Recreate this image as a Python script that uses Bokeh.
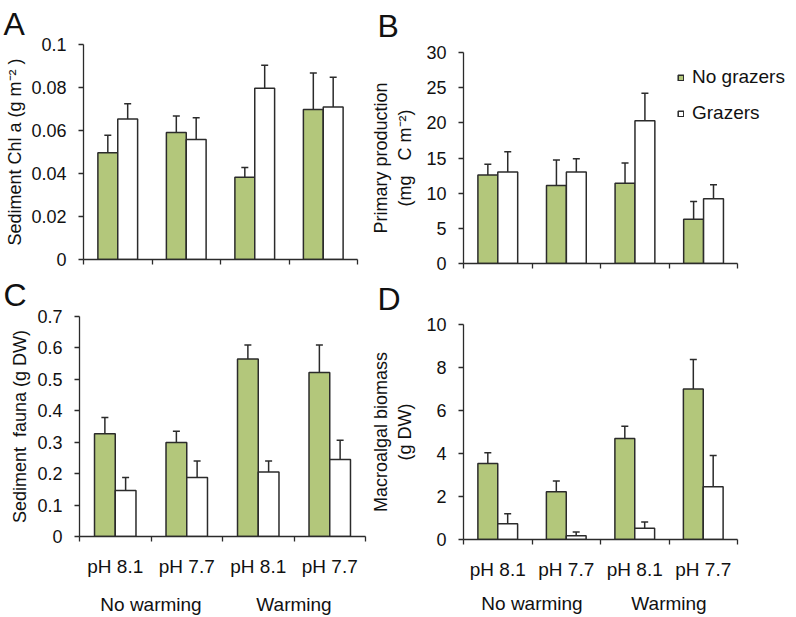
import numpy as np
from bokeh.plotting import figure
from bokeh.models import (Range1d, FixedTicker, LinearAxis, Whisker, TeeHead,
                          ColumnDataSource, Legend, LegendItem)
from bokeh.layouts import row, column
from bokeh.embed import file_html
from bokeh.resources import INLINE

# ---------------- data ----------------
groups = ["No warming", "Warming"]
ph_labels = ["pH 8.1", "pH 7.7", "pH 8.1", "pH 7.7"]
series = ["No grazers", "Grazers"]

# A: Sediment Chl a (g m-2)
chl_nog = [0.0496, 0.0591, 0.0383, 0.0698]
chl_nog_se = [0.0082, 0.0077, 0.0045, 0.0169]
chl_g = [0.0653, 0.0558, 0.0797, 0.0709]
chl_g_se = [0.0071, 0.0101, 0.0107, 0.0139]
chl_ticks = [0, 0.02, 0.04, 0.06, 0.08, 0.1]
chl_tick_labels = ["0", "0.02", "0.04", "0.06", "0.08", "0.1"]

# B: Primary production (mg C m-2)
pp_nog = [12.6, 11.1, 11.4, 6.3]
pp_nog_se = [1.5, 3.6, 2.9, 2.5]
pp_g = [13.0, 13.0, 20.3, 9.2]
pp_g_se = [2.9, 1.9, 3.9, 2.0]
pp_ticks = [0, 5, 10, 15, 20, 25, 30]
pp_tick_labels = ["0", "5", "10", "15", "20", "25", "30"]

# C: Sediment fauna (g DW)
fauna_nog = [0.327, 0.299, 0.565, 0.522]
fauna_nog_se = [0.052, 0.036, 0.044, 0.087]
fauna_g = [0.146, 0.188, 0.205, 0.245]
fauna_g_se = [0.042, 0.052, 0.035, 0.061]
fauna_ticks = [0, 0.1, 0.2, 0.3, 0.4, 0.5, 0.6, 0.7]
fauna_tick_labels = ["0", "0.1", "0.2", "0.3", "0.4", "0.5", "0.6", "0.7"]

# D: Macroalgal biomass (g DW)
alg_nog = [3.53, 2.22, 4.70, 7.00]
alg_nog_se = [0.50, 0.50, 0.57, 1.37]
alg_g = [0.73, 0.17, 0.52, 2.45]
alg_g_se = [0.47, 0.18, 0.29, 1.46]
alg_ticks = [0, 2, 4, 6, 8, 10]
alg_tick_labels = ["0", "2", "4", "6", "8", "10"]

# ---------------- style ----------------
GREEN = "#b3c77b"
EDGE = "#2b2b2b"
TXT = "#111111"
FONT = "Liberation Sans"
BW = 0.29
NB = "\u00a0"


def panel(nog, nog_se, g, g_se, ticks, tick_labels, ylabel, letter,
          width, height, mb, letter_off, letter_standoff=0, xlabels=False,
          legend=None, label_standoff=4, x_extra=1.0, ph_standoff=14,
          grp_standoff=13):
    n = len(nog)
    ymax = ticks[-1]
    p = figure(width=width, height=height, x_range=Range1d(0, n * x_extra),
               y_range=Range1d(0, ymax), output_backend="svg",
               toolbar_location=None,
               min_border_left=mb[0], min_border_right=mb[1],
               min_border_top=mb[2], min_border_bottom=mb[3])
    p.frame_align = False
    p.grid.visible = False
    p.outline_line_color = None

    # panel letter
    p.title.text = letter
    p.title.align = "left"
    p.title.vertical_align = "top"
    p.title.offset = letter_off
    p.title.standoff = letter_standoff
    p.title.text_font = FONT
    p.title.text_font_size = "32px"
    p.title.text_line_height = 0.75
    p.title.text_font_style = "normal"
    p.title.text_color = TXT

    centers = np.arange(n) + 0.5
    nog = np.array(nog); g = np.array(g)
    src = ColumnDataSource(dict(
        xn=centers - BW / 2, xg=centers + BW / 2,
        nog=nog, g=g,
        nog_up=nog + np.array(nog_se), g_up=g + np.array(g_se)))

    for col, top, up in (("xn", "nog", "nog_up"), ("xg", "g", "g_up")):
        p.add_layout(Whisker(source=src, base=col, lower=top, upper=up,
                             lower_head=None,
                             upper_head=TeeHead(size=7, line_color=EDGE, line_width=1.5),
                             line_color=EDGE, line_width=1.5, level="glyph"))
    r1 = p.vbar(x="xn", top="nog", bottom=0, width=BW, source=src,
                fill_color=GREEN, line_color=EDGE, line_width=1.5)
    r2 = p.vbar(x="xg", top="g", bottom=0, width=BW, source=src,
                fill_color="white", line_color=EDGE, line_width=1.5)

    # y axis
    ya = p.yaxis[0]
    ya.ticker = FixedTicker(ticks=ticks)
    ya.major_label_overrides = dict(zip(ticks, tick_labels))
    ya.major_tick_out = 5
    ya.major_tick_in = 0
    ya.minor_tick_line_color = None
    ya.axis_line_color = EDGE
    ya.major_tick_line_color = EDGE
    ya.axis_line_width = 1.3
    ya.major_tick_line_width = 1.3
    ya.major_label_text_font = FONT
    ya.major_label_text_font_size = "18px"
    ya.major_label_text_color = TXT
    ya.major_label_standoff = 12
    ya.axis_label = ylabel
    ya.axis_label_text_font = FONT
    ya.axis_label_text_font_size = "18px"
    ya.axis_label_text_font_style = "normal"
    ya.axis_label_text_color = TXT
    ya.axis_label_standoff = label_standoff

    # x axis: boundary ticks (minor), category labels (major, no tick marks)
    bounds = list(range(n + 1))
    xa = p.xaxis[0]
    xa.bounds = (0, n)
    xa.ticker = FixedTicker(ticks=list(centers) if xlabels else [], minor_ticks=bounds)
    if xlabels:
        xa.major_label_overrides = dict(zip(centers.tolist(), ph_labels))
    xa.major_tick_line_color = None
    xa.major_tick_out = 0
    xa.major_tick_in = 0
    xa.minor_tick_out = 5
    xa.minor_tick_in = 0
    xa.minor_tick_line_color = EDGE
    xa.minor_tick_line_width = 1.3
    xa.axis_line_color = EDGE
    xa.axis_line_width = 1.3
    xa.major_label_text_font = FONT
    xa.major_label_text_font_size = "19px"
    xa.major_label_text_color = TXT
    xa.major_label_standoff = ph_standoff if xlabels else 0
    xa.axis_label_standoff = 0

    if xlabels:
        gcent = [float(np.mean(centers[:2])), float(np.mean(centers[2:]))]
        ax3 = LinearAxis(ticker=FixedTicker(ticks=gcent, minor_ticks=[]),
                         major_label_overrides=dict(zip(gcent, groups)),
                         axis_line_color=None, major_tick_line_color=None,
                         minor_tick_line_color=None, major_tick_out=0,
                         major_tick_in=0, axis_label_standoff=0,
                         major_label_text_font=FONT, major_label_text_font_size="19px",
                         major_label_text_color=TXT,
                         major_label_standoff=grp_standoff)
        p.add_layout(ax3, "below")

    if legend is not None:
        lg = Legend(items=[LegendItem(label=series[0], renderers=[r1]),
                           LegendItem(label=series[1], renderers=[r2])],
                    location=legend, glyph_width=7, glyph_height=7,
                    label_text_font=FONT, label_text_font_size="19px",
                    label_text_color=TXT,
                    label_height=22, spacing=14, label_standoff=8,
                    padding=0, margin=0, border_line_color=None,
                    background_fill_alpha=0)
        p.add_layout(lg, "center")
    return p


pA = panel(chl_nog, chl_nog_se, chl_g, chl_g_se, chl_ticks, chl_tick_labels,
           "Sediment Chl a (g m\u207b\u00b2 )", "A", 368, 274, (83, 11, 44, 15), -80,
           letter_standoff=2, label_standoff=3)
pB = panel(pp_nog, pp_nog_se, pp_g, pp_g_se, pp_ticks, pp_tick_labels,
           "Primary production\n(mg" + NB + NB + " C m\u207b\u00b2)", "B", 428, 274,
           (93, 0, 50, 11), -86, letter_standoff=14, legend=(214, 139), label_standoff=8,
           x_extra=(796 - 461) / (737 - 461))
pC = panel(fauna_nog, fauna_nog_se, fauna_g, fauna_g_se, fauna_ticks, fauna_tick_labels,
           "Sediment" + NB + " fauna (g DW)", "C", 368, 343, (79, 3, 42, 79), -76,
           letter_standoff=4, xlabels=True, ph_standoff=14, grp_standoff=14)
pD = panel(alg_nog, alg_nog_se, alg_g, alg_g_se, alg_ticks, alg_tick_labels,
           "Macroalgal biomass\n(g DW)", "D", 428, 343, (93, 59, 46, 78), -86,
           letter_standoff=12, xlabels=True, label_standoff=8, ph_standoff=14,
           grp_standoff=10)

layout = column(row(pA, pB), row(pC, pD))
open("out.html", "w").write(file_html(layout, INLINE))
